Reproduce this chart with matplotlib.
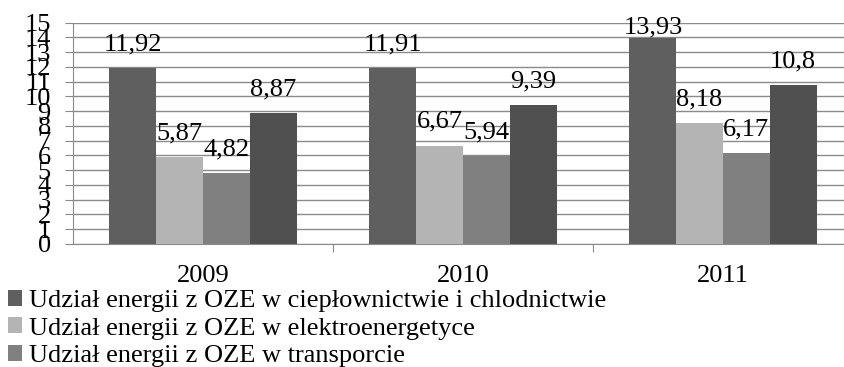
import numpy as np
import matplotlib
matplotlib.use("Agg")
from matplotlib import pyplot as plt

plt.rcParams['font.family'] = ['Liberation Serif', 'DejaVu Serif']

## Dane

lata = ["2009", "2010", "2011"]
cieplownictwo = [11.92, 11.91, 13.93]
elektroenergetyka = [5.87, 6.67, 8.18]
transport = [4.82, 5.94, 6.17]
ogolem = [8.87, 9.39, 10.8]

nazwy = ["Udział energii z OZE w ciepłownictwie i chlodnictwie",
         "Udział energii z OZE w elektroenergetyce",
         "Udział energii z OZE w transporcie"]

kolory = ["#5f5f5f", "#b4b4b4", "#808080", "#505050"]

## Wykres

fig = plt.figure(figsize=(8.44, 3.67), dpi=100)
ax = fig.add_axes([73/844, 1-244/367, (853-73)/844, (244-22.7)/367])

x = np.arange(len(lata))
szer = 0.18
serie = [cieplownictwo, elektroenergetyka, transport, ogolem]

slupki = []
for i, s in enumerate(serie):
    poz = x + (i - 1.5)*szer
    b = ax.bar(poz, s, szer, color=kolory[i], zorder=3)
    slupki.append(b)
    for xx, v in zip(poz, s):
        tekst = ("%g" % v).replace(".", ",")
        # etykieta nad slupkiem, ale nie wyzej niz gorna krawedz obszaru
        ax.text(xx, min(v + 1.2, 14.25), tekst, ha="center", va="baseline",
                fontsize=19, zorder=4)

ax.set_xlim(-0.5, 2.5)
ax.set_ylim(0, 15)
ax.set_yticks(range(0, 16))
ax.yaxis.grid(True, color="#8a8a8a", linewidth=1, zorder=0)

# etykiety lat pod grupami, kreski na granicach kategorii
ax.set_xticks([0.5, 1.5])
ax.set_xticklabels([])
ax.set_xticks(x, minor=True)
ax.set_xticklabels(lata, minor=True, fontsize=19)
ax.tick_params(axis="x", which="major", length=6, color="#8a8a8a", direction="out")
ax.tick_params(axis="x", which="minor", length=0, pad=15)
ax.tick_params(axis="y", length=6, color="#8a8a8a", direction="out", labelsize=19, pad=10)

for k in ["top", "right"]:
    ax.spines[k].set_visible(False)
ax.spines["left"].set_color("#8a8a8a")
ax.spines["bottom"].set_color("#8a8a8a")

fig.legend(slupki[:3], nazwy, loc="upper left", bbox_to_anchor=(0.0, 1-282/367),
           frameon=False, fontsize=19, handlelength=0.55, handleheight=0.55,
           handletextpad=0.25, labelspacing=0.2, borderaxespad=0, borderpad=0.3)

fig.savefig("out.png", dpi=100)
